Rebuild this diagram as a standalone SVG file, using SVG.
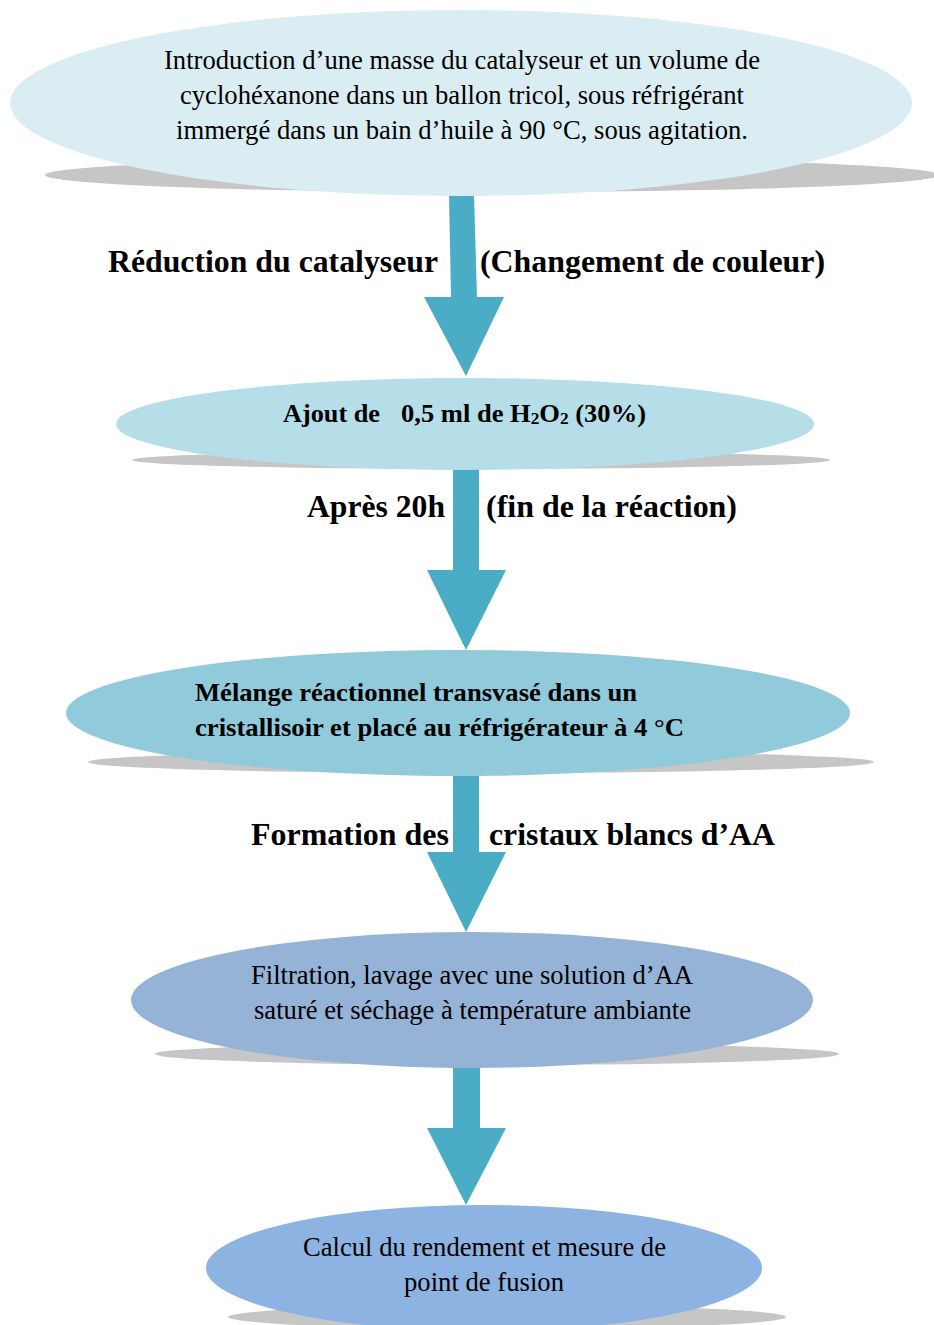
<svg xmlns="http://www.w3.org/2000/svg" width="934" height="1325" viewBox="0 0 934 1325">
<style>
.sh{fill:#c6c6c6}
.ar{fill:#4bacc6}
.t{font-family:"Liberation Serif","Times New Roman",serif;fill:#000}
.r{font-size:26.5px}
.b{font-weight:bold;font-size:26px}
.lb{font-family:"Liberation Serif","Times New Roman",serif;font-weight:bold;font-size:32px;fill:#000}
</style>
<rect width="934" height="1325" fill="#fff"/>
<g id="connectors">
<polygon class="ar" points="449,194 474,194 477,297 504,297 466,376 424,297 451,297"/>
<polygon class="ar" points="453,468 479,468 479,570 506,570 466,650 427,570 453,570"/>
<polygon class="ar" points="453,774 479,774 479,852 506,852 466,932 427,852 453,852"/>
<polygon class="ar" points="453,1066 480,1066 480,1128 506,1128 466,1205 427,1128 453,1128"/>
<text class="lb" x="108" y="272" textLength="330" lengthAdjust="spacingAndGlyphs">Réduction du catalyseur</text>
<text class="lb" x="480" y="272" textLength="345" lengthAdjust="spacingAndGlyphs">(Changement de couleur)</text>
<text class="lb" x="307" y="517" textLength="138" lengthAdjust="spacingAndGlyphs">Après 20h</text>
<text class="lb" x="486" y="517" textLength="251" lengthAdjust="spacingAndGlyphs">(fin de la réaction)</text>
<text class="lb" x="251" y="845" textLength="198" lengthAdjust="spacingAndGlyphs">Formation des</text>
<text class="lb" x="489" y="845" textLength="286" lengthAdjust="spacingAndGlyphs">cristaux blancs d’AA</text>
</g>
<g id="n1">
<ellipse class="sh" cx="492" cy="175" rx="447" ry="17"/>
<ellipse cx="461" cy="103" rx="451" ry="93" fill="#daedf3"/>
<text class="t r" x="164" y="69" textLength="596" lengthAdjust="spacingAndGlyphs">Introduction d’une masse du catalyseur et un volume de</text>
<text class="t r" x="180" y="104" textLength="564" lengthAdjust="spacingAndGlyphs">cyclohéxanone dans un ballon tricol, sous réfrigérant</text>
<text class="t r" x="176" y="139" textLength="572" lengthAdjust="spacingAndGlyphs">immergé dans un bain d’huile à 90 °C, sous agitation.</text>
</g>
<g id="n2">
<ellipse class="sh" cx="481" cy="460" rx="349" ry="9"/>
<ellipse cx="465" cy="424" rx="349" ry="46" fill="#b5dee8"/>
<text class="t b" x="283" y="422" textLength="97" lengthAdjust="spacingAndGlyphs">Ajout de</text>
<text class="t b" x="401" y="422" textLength="245" lengthAdjust="spacingAndGlyphs">0,5 ml de H<tspan font-size="17" dy="2">2</tspan><tspan dy="-2">O</tspan><tspan font-size="17" dy="2">2</tspan><tspan dy="-2"> (30%)</tspan></text>
</g>
<g id="n3">
<ellipse class="sh" cx="481" cy="762" rx="393" ry="11"/>
<ellipse cx="458" cy="713" rx="392" ry="63" fill="#91cbdb"/>
<text class="t b" x="195" y="701" textLength="442" lengthAdjust="spacingAndGlyphs">Mélange réactionnel transvasé dans un</text>
<text class="t b" x="195" y="736" textLength="489" lengthAdjust="spacingAndGlyphs">cristallisoir et placé au réfrigérateur à 4 °C</text>
</g>
<g id="n4">
<ellipse class="sh" cx="497" cy="1054" rx="342" ry="11"/>
<ellipse cx="472" cy="1000" rx="341" ry="68" fill="#95b3d7"/>
<text class="t r" x="251" y="984" textLength="442" lengthAdjust="spacingAndGlyphs">Filtration, lavage avec une solution d’AA</text>
<text class="t r" x="254" y="1019" textLength="437" lengthAdjust="spacingAndGlyphs">saturé et séchage à température ambiante</text>
</g>
<g id="n5">
<ellipse class="sh" cx="507" cy="1317" rx="279" ry="12"/>
<ellipse cx="484" cy="1268" rx="278" ry="63" fill="#8db3e2"/>
<text class="t r" x="303" y="1256" textLength="363" lengthAdjust="spacingAndGlyphs">Calcul du rendement et mesure de</text>
<text class="t r" x="404" y="1291" textLength="160" lengthAdjust="spacingAndGlyphs">point de fusion</text>
</g>
</svg>
